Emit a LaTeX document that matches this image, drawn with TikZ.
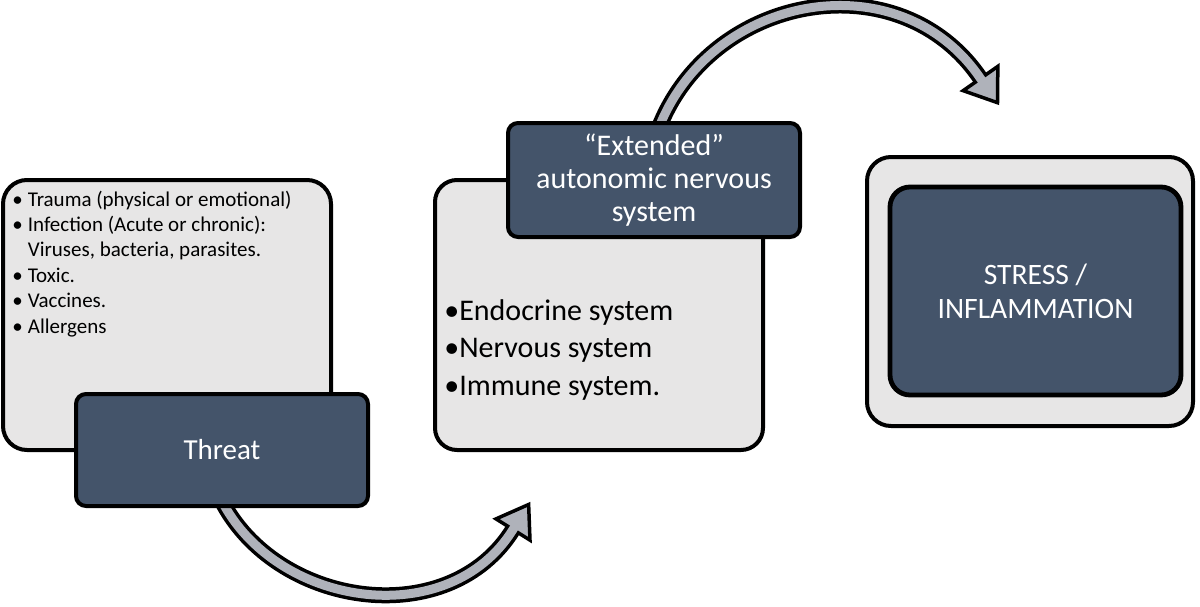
\documentclass[tikz,border=0pt]{standalone}
\usepackage{fontspec}
\setmainfont{Carlito}
\usetikzlibrary{calc}
\definecolor{boxgray}{HTML}{E7E6E6}
\definecolor{boxblue}{HTML}{44546A}
\definecolor{arrowgray}{HTML}{AFB2BA}
\tikzset{
  lightbox/.style={draw=black, line width=2pt, fill=boxgray, rounded corners=12pt, inner sep=0pt},
  darkbox/.style={draw=black, line width=2pt, fill=boxblue, rounded corners=5pt, text=white, align=center, inner sep=0pt},
  shaftout/.style={draw=black, line width=8pt},
  shaftin/.style={draw=arrowgray, line width=4.5pt},
  headtip/.style={draw=black, fill=arrowgray, line width=1.75pt, line join=miter},
  listtext/.style={text=black, inner sep=0pt, align=left}
}
\begin{document}
\begin{tikzpicture}[x=0.5pt,y=-0.5pt]
\useasboundingbox (0,0) rectangle (1200,606);
% ---------- bottom arrow (Threat -> systems) ----------
\coordinate (a1s) at (219,496);
\coordinate (a1p) at (224,505);
\coordinate (a1c1) at (282,609);
\coordinate (a1c2) at (450,631);
\coordinate (a1b) at (513,529.5);
\coordinate (a1x) at ($(a1b)+(2.1,-3.4)$);
\coordinate (a1t) at ($(a1b)+(13.25,-21.2)$);
\coordinate (a1l) at ($(a1b)+(-14.4,-9.0)$);
\coordinate (a1r) at ($(a1b)+(14.4,9.0)$);
\path[shaftout] (a1s) -- (a1p) .. controls (a1c1) and (a1c2) .. (a1b);
\path[headtip] ($(a1b)!1.18!(a1t)$) -- ($(a1b)!1.18!(a1l)$) -- ($(a1b)!1.18!(a1r)$) -- cycle;
\path[shaftin] (a1s) -- (a1p) .. controls (a1c1) and (a1c2) .. (a1b) -- (a1x);
% ---------- top arrow (Extended -> Stress) ----------
\coordinate (a2s) at (656,134);
\coordinate (a2p) at (660,125);
\coordinate (a2c1) at (714,-7);
\coordinate (a2c2) at (900,-40);
\coordinate (a2b) at (980.5,78.5);
\coordinate (a2x) at ($(a2b)+(2.3,3.3)$);
\coordinate (a2t) at ($(a2b)+(14.4,20.5)$);
\coordinate (a2l) at ($(a2b)+(-14.7,10.3)$);
\coordinate (a2r) at ($(a2b)+(14.7,-10.3)$);
\path[shaftout] (a2s) -- (a2p) .. controls (a2c1) and (a2c2) .. (a2b);
\path[headtip] ($(a2b)!1.18!(a2t)$) -- ($(a2b)!1.18!(a2l)$) -- ($(a2b)!1.18!(a2r)$) -- cycle;
\path[shaftin] (a2s) -- (a2p) .. controls (a2c1) and (a2c2) .. (a2b) -- (a2x);
% ---------- left group ----------
\node[lightbox, minimum width=164pt, minimum height=135pt] (threats) at (167,315) {};
\node[listtext, anchor=base west] (threatlist) at (12,206) {%
  \fontsize{10.5}{12.7}\selectfont
  \begin{tabular}[t]{@{}l@{\hspace{2.5pt}}l@{}}
  • & Trauma (physical or emotional)\\
  • & Infection (Acute or chronic):\\
    & Viruses, bacteria, parasites.\\
  • & Toxic.\\
  • & Vaccines.\\
  • & Allergens
  \end{tabular}};
\node[darkbox, minimum width=146pt, minimum height=56pt, font=\fontsize{14.5}{17}\selectfont] (threat) at (222,450) {Threat};
% ---------- middle group ----------
\node[lightbox, rounded corners=11pt, minimum width=164pt, minimum height=135pt] (systems) at (599,315) {};
\node[listtext, anchor=base west] (syslist) at (444,320) {%
  \fontsize{15}{18.75}\selectfont
  \begin{tabular}[t]{@{}l@{}l@{}}
  • & Endocrine system\\
  • & Nervous system\\
  • & Immune system.
  \end{tabular}};
\node[darkbox, minimum width=146pt, minimum height=57pt, font=\fontsize{15}{16.5}\selectfont] (ans) at (654,180) {“Extended”\\autonomic nervous\\system};
% ---------- right group ----------
\node[lightbox, minimum width=163pt, minimum height=134.5pt] (frame) at (1030,291.5) {};
\node[darkbox, line width=2.4pt, rounded corners=10pt, minimum width=145.5pt, minimum height=104pt, font=\fontsize{14.8}{17}\selectfont] (stress) at (1035.5,291) {STRESS /\\INFLAMMATION};
\end{tikzpicture}
\end{document}
